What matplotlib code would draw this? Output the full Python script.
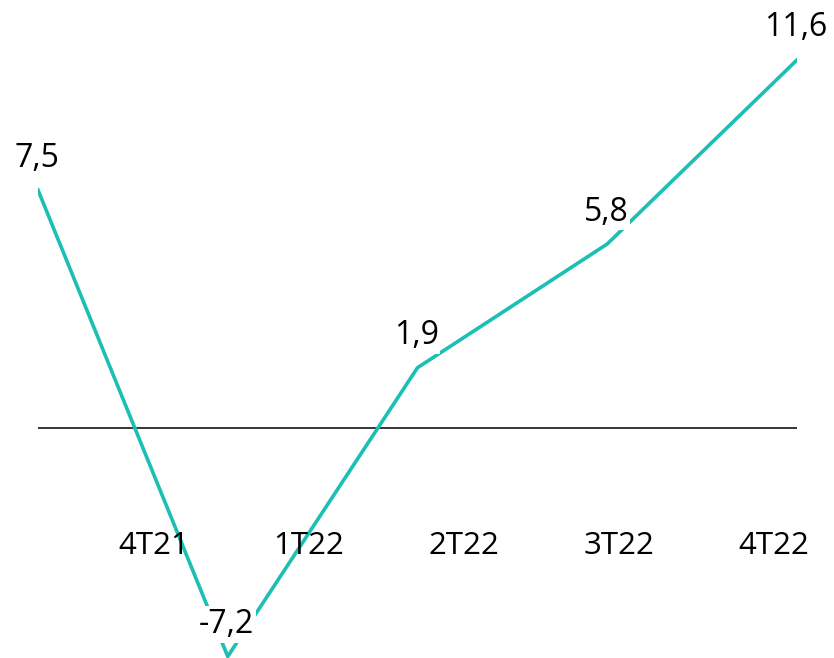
import numpy as np
import matplotlib.pyplot as plt

# Dados do gráfico
valores = [7.5, -7.2, 1.9, 5.8, 11.6]
rotulos = ['7,5', '-7,2', '1,9', '5,8', '11,6']
trimestres = ['4T21', '1T22', '2T22', '3T22', '4T22']

plt.rcParams['font.family'] = ['Open Sans', 'DejaVu Sans']

fig = plt.figure(figsize=(8.34, 6.58), dpi=100)
ax = fig.add_axes([38/834, 0, 759/834, 1])

px_unidade = 31.73
ax.set_xlim(0, 4)
ax.set_ylim(-(658 - 428)/px_unidade, 428/px_unidade)
ax.axis('off')

x = np.arange(len(valores))
ax.axhline(0, color='black', lw=1.1, zorder=1)
ax.plot(x, valores, color='#1BBFB3', lw=2.6, zorder=2)

for xi, v, r in zip(x, valores, rotulos):
    ax.annotate(r, (xi, v), xytext=(-1, 23), textcoords='offset points',
                ha='center', va='center', fontsize=23, color='black',
                bbox=dict(boxstyle='square,pad=0.05', fc='white', ec='none'),
                zorder=3, annotation_clip=False)

# rótulos do eixo deslocados, como no original
pos_rotulos = 0.61 + 0.817*np.arange(len(trimestres))
for p, t in zip(pos_rotulos, trimestres):
    ax.text(p, -118/px_unidade, t, ha='center', va='center', fontsize=22.5,
            color='black', zorder=4)

fig.savefig('out.png', dpi=100)
